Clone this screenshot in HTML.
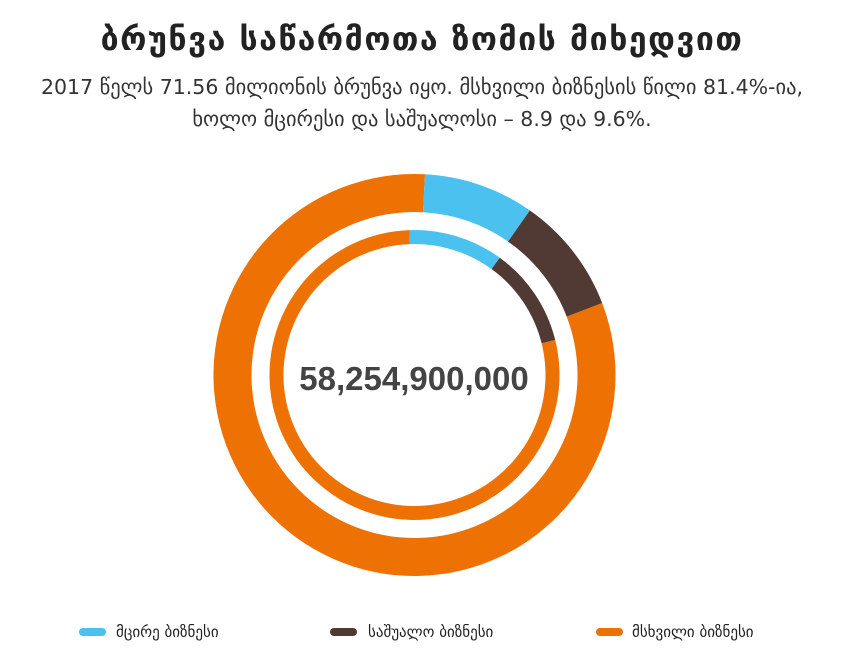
<!DOCTYPE html>
<html><head><meta charset="utf-8"><style>
body{margin:0;width:844px;height:662px;background:#fff;overflow:hidden;font-family:"DejaVu Sans","Liberation Sans",sans-serif;color:#222}
.t{position:absolute;left:0;width:844px;text-align:center}
</style></head><body>
<div class="t" style="top:20px;font-size:32px;font-weight:bold;letter-spacing:1.5px">ბრუნვა საწარმოთა ზომის მიხედვით</div>
<div class="t" style="top:71px;font-size:20.5px;line-height:32px;color:#333">2017 წელს 71.56 მილიონის ბრუნვა იყო. მსხვილი ბიზნესის წილი 81.4%-ია,<br>ხოლო მცირესი და საშუალოსი – 8.9 და 9.6%.</div>
<svg width="844" height="662" style="position:absolute;left:0;top:0" id="s">
<text x="414" y="390" text-anchor="middle" font-family="Liberation Sans,sans-serif" font-weight="bold" font-size="33" fill="#444">58,254,900,000</text>
<rect x="79" y="628" width="27" height="8" rx="4" fill="#4bc1ef"/>
<rect x="330" y="628" width="27" height="8" rx="4" fill="#503a33"/>
<rect x="596" y="628" width="27" height="8" rx="4" fill="#ee7203"/>
<text x="116" y="637" font-size="15" fill="#222">მცირე ბიზნესი</text>
<text x="368" y="637" font-size="15" fill="#222">საშუალო ბიზნესი</text>
<text x="632" y="637" font-size="15" fill="#222">მსხვილი ბიზნესი</text>
</svg>
<script>
var s=document.getElementById('s'),cx=414.5,cy=375;
function arc(r0,r1,a0,a1,c){function p(r,a){a=a*Math.PI/180;return [cx+r*Math.sin(a),cy-r*Math.cos(a)]}
var l=(a1-a0)>180?1:0,A=p(r1,a0),B=p(r1,a1),C=p(r0,a1),D=p(r0,a0);
var e=document.createElementNS('http://www.w3.org/2000/svg','path');
e.setAttribute('d','M'+A+' A'+r1+' '+r1+' 0 '+l+' 1 '+B+' L'+C+' A'+r0+' '+r0+' 0 '+l+' 0 '+D+'Z');e.setAttribute('fill',c);s.insertBefore(e,s.firstChild);}
arc(163,201,3,35,'#4bc1ef');arc(163,201,35,69,'#503a33');arc(163,201,69,363,'#ee7203');
arc(131,145,-2,36,'#4bc1ef');arc(131,145,36,76,'#503a33');arc(131,145,76,358,'#ee7203');
</script>
</body></html>
